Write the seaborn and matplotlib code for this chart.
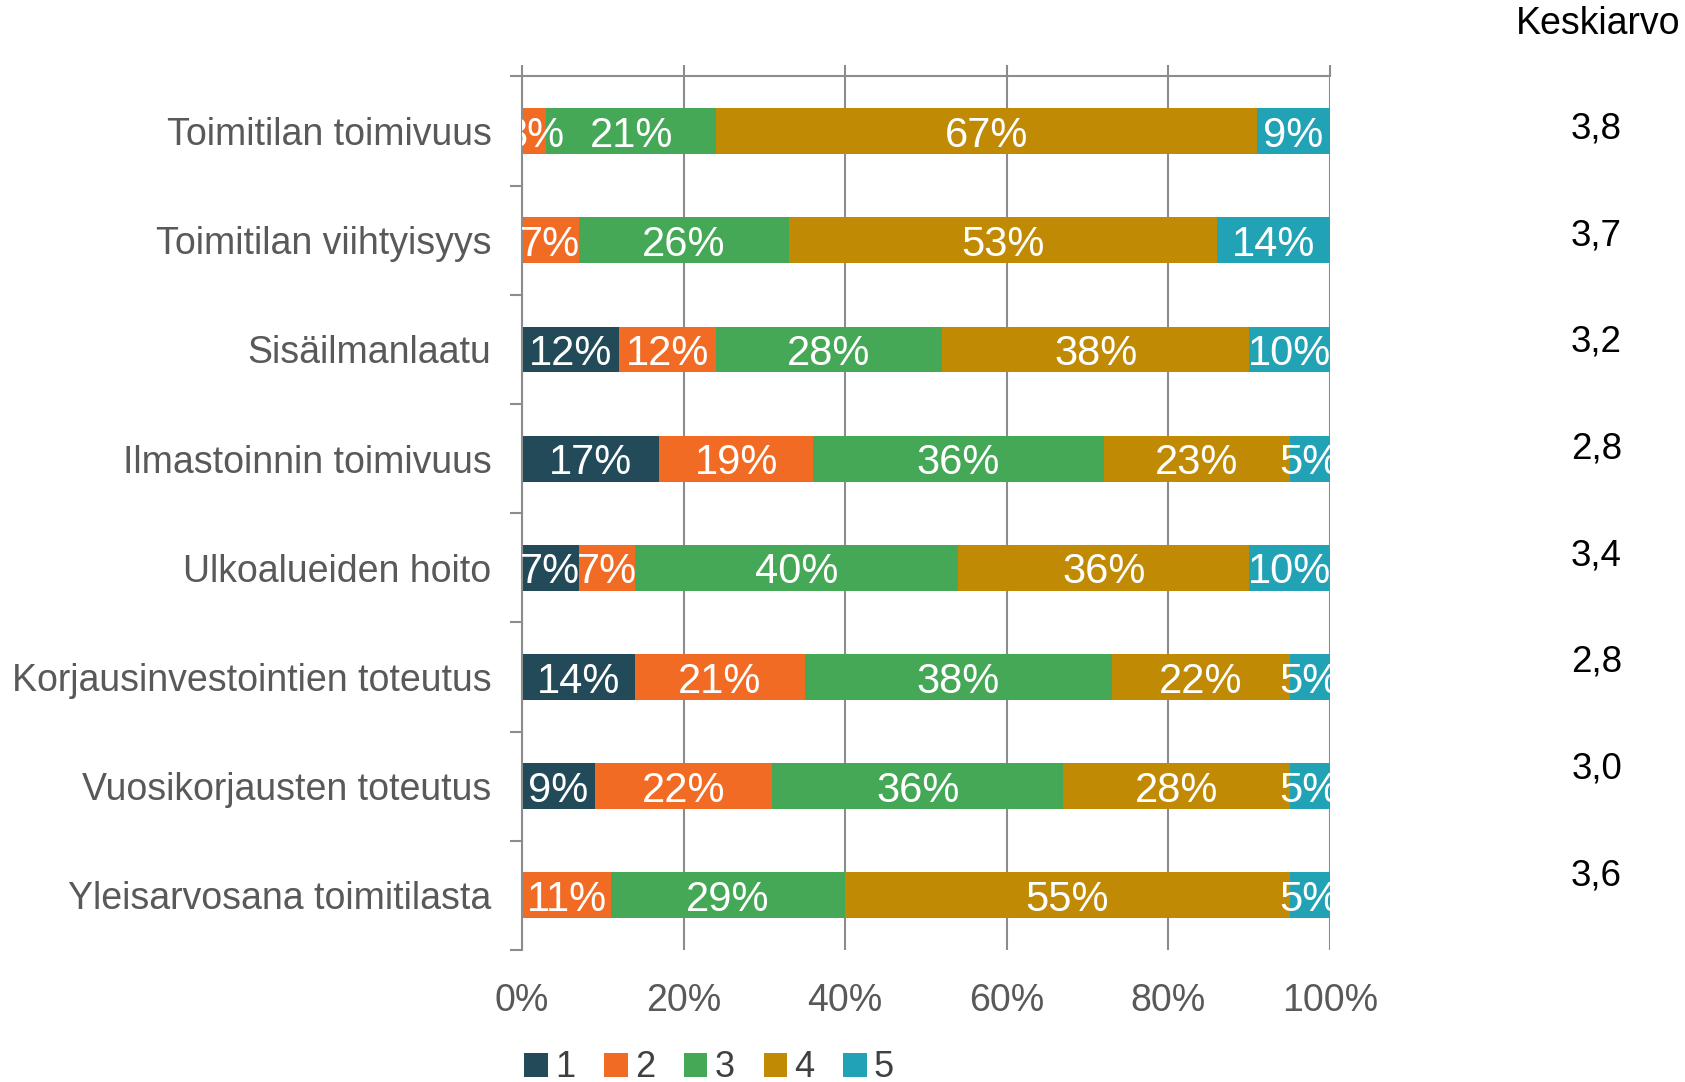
import numpy as np
import pandas as pd
import matplotlib
matplotlib.use("Agg")
import matplotlib.pyplot as plt
from matplotlib.patches import Patch
import seaborn as sns

# data
categories = ["Toimitilan toimivuus", "Toimitilan viihtyisyys", "Sisäilmanlaatu",
              "Ilmastoinnin toimivuus", "Ulkoalueiden hoito",
              "Korjausinvestointien toteutus", "Vuosikorjausten toteutus",
              "Yleisarvosana toimitilasta"]
s1 = [0, 0, 12, 17, 7, 14, 9, 0]
s2 = [3, 7, 12, 19, 7, 21, 22, 11]
s3 = [21, 26, 28, 36, 40, 38, 36, 29]
s4 = [67, 53, 38, 23, 36, 22, 28, 55]
s5 = [9, 14, 10, 5, 10, 5, 5, 5]
series_names = ["1", "2", "3", "4", "5"]
means = ["3,8", "3,7", "3,2", "2,8", "3,4", "2,8", "3,0", "3,6"]
xticks = [0, 20, 40, 60, 80, 100]

colors = ["#224A59", "#F26B25", "#45A856", "#C08A04", "#22A2B5"]
grey = "#8C8C8C"
text_grey = "#595959"

sns.set_style("white")
plt.rcParams["font.family"] = ["Liberation Sans", "DejaVu Sans"]

df = pd.DataFrame({"cat": categories, "1": s1, "2": s2, "3": s3, "4": s4, "5": s5})
cum = df[series_names].cumsum(axis=1)

fig = plt.figure(figsize=(16.85, 10.82), dpi=100)
ax = fig.add_axes([0.3098, 0.122, 0.4795, 0.8073])

# stacked bars: draw cumulative totals from the last series to the first
for i in reversed(range(len(series_names))):
    name = series_names[i]
    sns.barplot(x=cum[name], y=df["cat"], orient="h", color=colors[i],
                saturation=1, width=0.42, ax=ax, linewidth=0)

# segment labels
for i, name in enumerate(series_names):
    for j in range(len(categories)):
        v = df[name].iloc[j]
        if v <= 0:
            continue
        left = cum[name].iloc[j] - v
        ax.text(left + v / 2, j, f"{v}%", ha="center", va="center_baseline",
                color="white", fontsize=30, clip_on=True)

ax.set_xlim(0, 100)
ax.set_ylim(len(categories) - 0.5, -0.5)
ax.set_xlabel("")
ax.set_ylabel("")

ax.set_xticks(xticks)
ax.set_xticklabels([f"{t}%" for t in xticks])
ax.tick_params(axis="x", which="major", top=True, bottom=False, labeltop=False,
               labelbottom=True, direction="out", length=8, width=1.5,
               color=grey, labelsize=27, labelcolor=text_grey, pad=16)
ax.grid(axis="x", color=grey, linewidth=1.5)
ax.set_axisbelow(True)

ax.set_yticks(range(len(categories)))
ax.set_yticklabels(categories)
ax.set_yticks(np.arange(-0.5, len(categories), 1), minor=True)
ax.tick_params(axis="y", which="major", length=0, labelsize=27,
               labelcolor=text_grey, pad=22)
ax.tick_params(axis="y", which="minor", left=True, length=9, width=1.5,
               color=grey, direction="out")

for side in ["right", "bottom"]:
    ax.spines[side].set_visible(False)
for side in ["left", "top"]:
    ax.spines[side].set_color(grey)
    ax.spines[side].set_linewidth(1.5)

# mean column on the right
fig.text(0.997, 0.978, "Keskiarvo", ha="right", va="center", fontsize=27, color="black")
for y, m in zip(np.linspace(0.940, 0.085, len(means)), means):
    ax.text(1.330, y, m, transform=ax.transAxes, ha="center", va="center",
            fontsize=26.5, color="black")

handles = [Patch(facecolor=c, edgecolor="none") for c in colors]
fig.legend(handles, series_names, loc="center left", bbox_to_anchor=(0.3005, 0.013),
           ncol=5, frameon=False, fontsize=26, handlelength=0.65, handleheight=0.65,
           handletextpad=0.2, columnspacing=0.8, borderpad=0, labelcolor="#404040")

plt.savefig("out.png", dpi=100)
